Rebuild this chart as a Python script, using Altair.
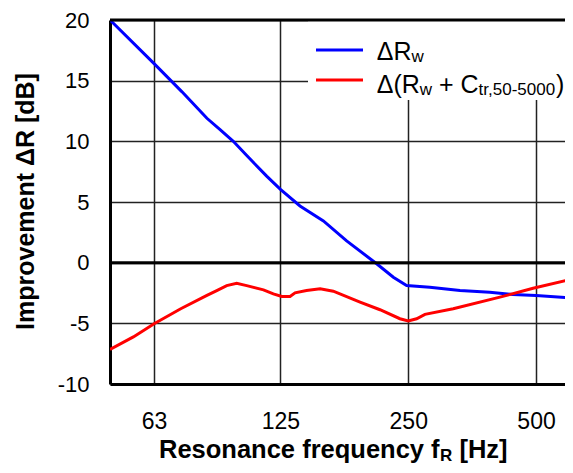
import altair as alt
import pandas as pd

# ---- data ----
blue_f = [49.6, 63, 73.2, 83.9, 90.1, 96.8, 104, 116, 125, 139, 157.8, 179, 211, 230.6, 247.8, 281, 331, 389, 441, 500, 611]
blue_v = [20, 16.4, 14.1, 11.9, 10.96, 10.0, 8.85, 7.13, 6.04, 4.67, 3.44, 1.8, -0.11, -1.2, -1.88, -2.02, -2.3, -2.43, -2.62, -2.7, -2.93]

red_f = [49.6, 56.3, 63, 72.8, 83.9, 88.5, 93.4, 98.6, 104.1, 114, 120.3, 125.9, 131.7, 135.3, 144, 155, 166.5,
         192.5, 214.5, 239, 250, 261.6, 273.7, 319, 411, 492, 611]
red_v = [-7.16, -6.12, -5.03, -3.8, -2.7, -2.3, -1.89, -1.7, -1.89, -2.24, -2.57, -2.79, -2.79, -2.49, -2.3, -2.16, -2.35,
         -3.25, -3.88, -4.62, -4.81, -4.62, -4.26, -3.8, -2.84, -2.11, -1.34]

x_ticks = [63, 125, 250, 500]
y_ticks = [-10, -5, 0, 5, 10, 15, 20]
x_domain = [49.6, 585]
y_domain = [-10, 20]

FONT = "Liberation Sans"
W, H = 455, 364
TOP = 12  # top padding

blue = pd.DataFrame({"f": blue_f, "v": blue_v})
red = pd.DataFrame({"f": red_f, "v": red_v})

xs = alt.Scale(type="log", domain=x_domain, nice=False)
ys = alt.Scale(domain=y_domain, nice=False)

x_axis = alt.Axis(values=x_ticks, labelExpr="'' + datum.value", grid=True, gridColor="#222", gridWidth=1.5,
                  domainColor="black", domainWidth=3, ticks=False, tickSize=0,
                  labelFont=FONT, labelFontSize=23, labelColor="black", labelBaseline="alphabetic",
                  labelPadding=44, title=None)
y_axis = alt.Axis(values=y_ticks, labelExpr="'' + datum.value", grid=True, gridColor="#222", gridWidth=1.5,
                  domainColor="black", domainWidth=3, ticks=False, tickSize=0,
                  labelFont=FONT, labelFontSize=22, labelColor="black", labelPadding=21,
                  title="Improvement ΔR [dB]", titleFont=FONT, titleFontSize=25, titleFontWeight="bold",
                  titleColor="black", titleAngle=270, titleAlign="center", titleBaseline="alphabetic",
                  titleX=-77, titleY=181)

blue_line = alt.Chart(blue).mark_line(color="#0000ff", strokeWidth=3, clip=True).encode(
    x=alt.X("f:Q", scale=xs, axis=x_axis),
    y=alt.Y("v:Q", scale=ys, axis=y_axis),
)
red_line = alt.Chart(red).mark_line(color="#ff0000", strokeWidth=3, clip=True).encode(
    x=alt.X("f:Q", scale=xs),
    y=alt.Y("v:Q", scale=ys),
)

zero_rule = alt.Chart(pd.DataFrame({"v": [0]})).mark_rule(color="black", strokeWidth=3).encode(
    y=alt.Y("v:Q", scale=ys))
top_rule = alt.Chart(pd.DataFrame({"v": [y_domain[1]]})).mark_rule(color="black", strokeWidth=3).encode(
    y=alt.Y("v:Q", scale=ys))

# legend background (plot-relative pixels; plot top is at page y = 8 + TOP)
oy = 8 + TOP
legend_bg = alt.Chart(pd.DataFrame({"a": [0]})).mark_rect(color="white").encode(
    x=alt.value(198), x2=alt.value(W), y=alt.value(0), y2=alt.value(100 - oy))

leg_blue = alt.Chart(pd.DataFrame({"a": [0]})).mark_rule(color="#0000ff", strokeWidth=3).encode(
    x=alt.value(206), x2=alt.value(253), y=alt.value(50 - oy))
leg_red = alt.Chart(pd.DataFrame({"a": [0]})).mark_rule(color="#ff0000", strokeWidth=3).encode(
    x=alt.value(206), x2=alt.value(253), y=alt.value(80 - oy))


def txt(s, x, y, size, weight="normal", align="left"):
    return alt.Chart(pd.DataFrame({"t": [s]})).mark_text(
        font=FONT, fontSize=size, fontWeight=weight, align=align, baseline="alphabetic", color="black"
    ).encode(text="t:N", x=alt.value(x), y=alt.value(y))


# approximate advance widths (em) for Liberation Sans
ADV = {"Δ": 0.667, "R": 0.722, "(": 0.333, ")": 0.333, "+": 0.584, " ": 0.278, "C": 0.722, "w": 0.722}
MAIN, SUB = 25, 17


def wid(s, size):
    return sum(ADV[c] for c in s) * size


lx = 266.7
legend_texts = [
    txt("ΔR", lx, 60 - oy, MAIN),
    txt("w", lx + wid("ΔR", MAIN), 62 - oy, SUB),
]
x1 = lx + wid("Δ(R", MAIN)
x2 = x1 + wid("w", SUB)
x3 = x2 + wid(" + C", MAIN)
x4 = x3 + 4.558 * SUB
legend_texts += [
    txt("Δ(R", lx, 93 - oy, MAIN),
    txt("w", x1, 95 - oy, SUB),
    txt("+ C", x2 + wid(" ", MAIN), 93 - oy, MAIN),
    txt("tr,50-5000", x3, 95 - oy, SUB),
    txt(")", x4, 93 - oy, MAIN),
]

TF = 25.5
t0 = 49
main_w = 11.003 * TF
rx = t0 + main_w + 0.5
x_title = [
    txt("Resonance frequency f", t0, 458 - oy, TF, "bold"),
    txt("R", rx, 461 - oy, 17, "bold"),
    txt("[Hz]", rx + 0.722 * 17 + 0.278 * TF, 458 - oy, TF, "bold"),
]

chart = alt.layer(
    blue_line, legend_bg, zero_rule, top_rule, red_line, leg_blue, leg_red,
    *legend_texts, *x_title
).properties(
    width=W, height=H,
    autosize=alt.AutoSizeParams(type="none"),
    padding={"left": 102, "top": TOP, "right": 0, "bottom": 80},
).configure_view(strokeWidth=0)

chart.save("out.html", embed_options={"renderer": "svg", "actions": False})
